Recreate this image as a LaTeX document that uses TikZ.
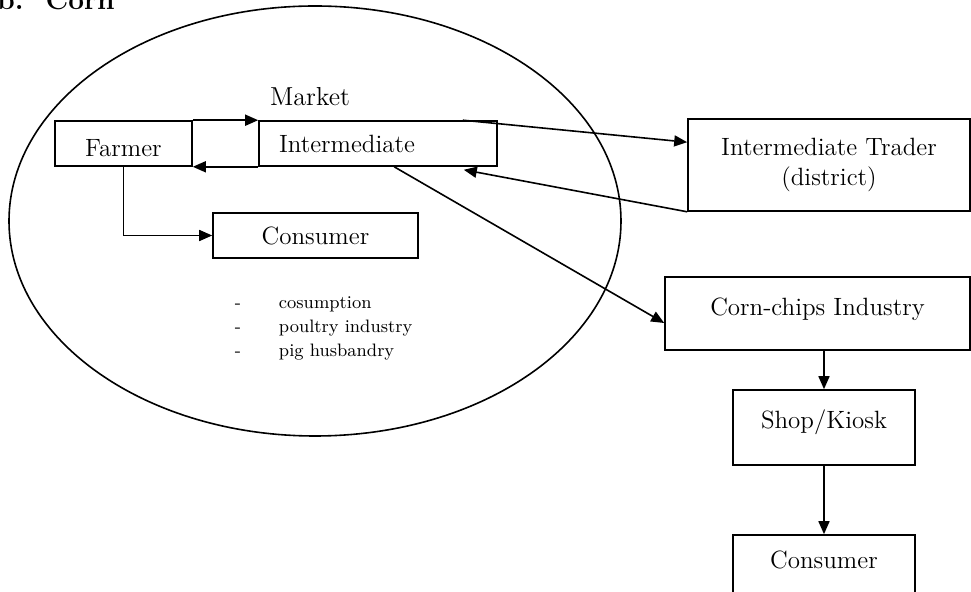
\documentclass[tikz,border=0pt]{standalone}
\usetikzlibrary{arrows.meta,calc}

\begin{document}
\begin{tikzpicture}[
		x=0.5pt, y=-0.5pt,
		line width=0.8pt,
		every node/.style={font=\fontsize{12.5}{15}\selectfont},
		box/.style={draw, rectangle, inner sep=0pt, minimum height=22.5pt},
		arr/.style={-{Triangle[length=6.5pt,width=5.5pt]}}]
		
		\useasboundingbox (0,0) rectangle (971,592);
		\clip (0,0) rectangle (971,592);
		
		\node[anchor=base west, font=\fontsize{14}{16}\selectfont\bfseries] (title) at (-10,10) {b.\hspace{11pt}Corn};
		
		% market
		\draw (315,221) ellipse [x radius=153pt, y radius=107.5pt];
		\node[font=\fontsize{13}{15}\selectfont] (market) at (310,97) {Market};
		
		\node[box, minimum width=68.5pt, text height=13pt] (farmer) at (123.5,143.5) {Farmer};
		\node[box, text width=99pt, inner xsep=10pt, align=left] (inter) at (378,143.5) {Intermediate};
		\node[box, minimum width=102.5pt] (cons) at (315.5,235.5) {Consumer};
		\node[anchor=north west, font=\fontsize{9}{12}\selectfont, inner sep=0pt] (uses) at (234,291) {%
			\begin{tabular}{@{}l@{\hspace{19pt}}l@{}}
				- & cosumption\\
				- & poultry industry\\
				- & pig husbandry
			\end{tabular}};
		
		% outside
		\node[box, minimum width=141pt, minimum height=46pt, align=center] (trader) at (829,165) {Intermediate Trader\\(district)};
		\node[box, minimum width=152.5pt, minimum height=36.5pt, text depth=7pt] (chips) at (817.5,313.5) {Corn-chips Industry};
		\node[box, minimum width=91pt, minimum height=37.5pt, text depth=8pt] (shop) at (824,427.5) {Shop/Kiosk};
		\node[box, minimum width=91pt, minimum height=35pt, text depth=10pt] (endcons) at (824,570) {Consumer};
		
		\draw[arr] (farmer.north east) -- (inter.north west);
		\draw[arr] (inter.south west) -- (farmer.south east);
		\draw[arr] (farmer.south) |- (cons.west);
		
		\draw[arr] ($(inter.north east)+(-35,0)$) -- ($(trader.north west)+(0,24)$);
		\draw[arr] (trader.south west) -- ($(inter.south east)+(-34,3)$);
		\draw[arr] ($(inter.south west)+(136,0)$) -- ($(chips.west)+(0,9.5)$);
		
		\draw[arr] (chips.south -| shop.north) -- (shop.north);
		\draw[arr] (shop.south) -- (endcons.north);
		
	\end{tikzpicture}
\end{document}
